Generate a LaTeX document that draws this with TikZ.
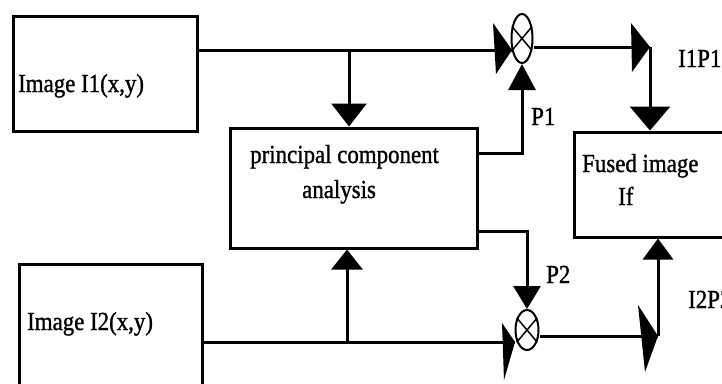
\documentclass[tikz,border=0pt]{standalone}
\usepackage{fontspec}
\usepackage{graphicx}
\setmainfont{Liberation Serif}
\newfontfamily\lblfont{Liberation Serif}[FakeBold=1.2]
\usetikzlibrary{arrows.meta,shapes.geometric}
% slightly condensed lettering
\newcommand\condtext[1]{\scalebox{0.88}[1]{#1}}

\begin{document}
\begin{tikzpicture}[x=1pt,y=-1pt,
  box/.style={draw, line width=3pt, inner sep=0pt},
  wire/.style={line width=3pt},
  lbl/.style={inner sep=0pt, anchor=base west, font=\lblfont\fontsize{26}{30}\selectfont},
  mult/.style={draw, ellipse, line width=2pt, inner sep=0pt},
  skewtip/.style={fill=black},
]
\useasboundingbox (0,0) rectangle (722,383);
\clip (0,0) rectangle (722,383);

% blocks
\node[box, minimum width=184pt, minimum height=115pt] (i1) at (105,73.5) {};
\node[box, minimum width=183pt, minimum height=128pt] (i2) at (110.5,328) {};
\node[box, minimum width=247pt, minimum height=120pt] (pca) at (353.5,188) {};
\node[box, minimum width=166pt, minimum height=105pt] (fused) at (657,184.5) {};

% multipliers
\node[mult, minimum width=21pt, minimum height=49pt] (m1) at (522,38.5) {};
\node[mult, minimum width=23pt, minimum height=40pt] (m2) at (527,330) {};
\draw[line width=1.5pt] (m1.50) -- (m1.230) (m1.130) -- (m1.310);
\draw[line width=1.5pt] (m2.50) -- (m2.230) (m2.130) -- (m2.310);

% texts
\node[lbl] (t1) at (18,92) {\condtext{Image I1(x,y)}};
\node[lbl] (t2) at (27,330) {\condtext{Image I2(x,y)}};
\node[lbl] (t3) at (250,163) {\condtext{principal component}};
\node[lbl] (t4) at (302,198) {\condtext{analysis}};
\node[lbl] (t5) at (582,172) {\condtext{Fused image}};
\node[lbl] (t6) at (618,205) {\condtext{If}};
\node[lbl] (t7) at (531,125) {\condtext{P1}};
\node[lbl] (t8) at (546,283) {\condtext{P2}};
\node[lbl] (t9) at (678,67) {\condtext{I1P1}};
\node[lbl] (t10) at (688,308) {\condtext{I2P2}};

% image 1 path
\coordinate (j1) at (349,50);
\coordinate (m1in) at (512,50);
\draw[wire] (i1.east |- j1) -- (m1in);
\draw[wire, -{Triangle[length=23pt,width=35pt]}] (j1) -- (pca.north -| j1);
\fill[skewtip] (m1in) -- ++(-19,-27) -- ++(3,51) -- cycle;

% weight P1
\coordinate (p1a) at (522,153);
\draw[wire, -{Triangle[length=26pt,width=27pt]}] (pca.east |- p1a) -- (p1a) -- (m1.south);

% product I1P1 into the fused image
\coordinate (c1) at (650,47);
\draw[wire] (m1.east |- c1) -- (c1);
\fill[skewtip] (c1) -- ++(-19,-24) -- ++(1,49) -- cycle;
\draw[wire, -{Triangle[length=24pt,width=40pt]}] (c1) -- (fused.north -| c1);

% image 2 path
\coordinate (j2) at (347,342);
\coordinate (m2in) at (515,342);
\draw[wire] (i2.east |- j2) -- (m2in);
\draw[wire, -{Triangle[length=20pt,width=31pt]}] (j2) -- (pca.south -| j2);
\fill[skewtip] (m2in) -- ++(-13,-19) -- ++(2,57) -- cycle;

% weight P2
\coordinate (p2a) at (527,231);
\draw[wire, -{Triangle[length=23pt,width=27pt]}] (pca.east |- p2a) -- (p2a) -- (m2.north);

% product I2P2 into the fused image
\coordinate (c2) at (658,336);
\draw[wire] (m2.east |- c2) -- (c2);
\fill[skewtip] (c2) -- ++(-20,-31) -- ++(7,67) -- cycle;
\draw[wire, -{Triangle[length=21pt,width=30pt]}] (c2) -- (fused.south -| c2);
\end{tikzpicture}
\end{document}
